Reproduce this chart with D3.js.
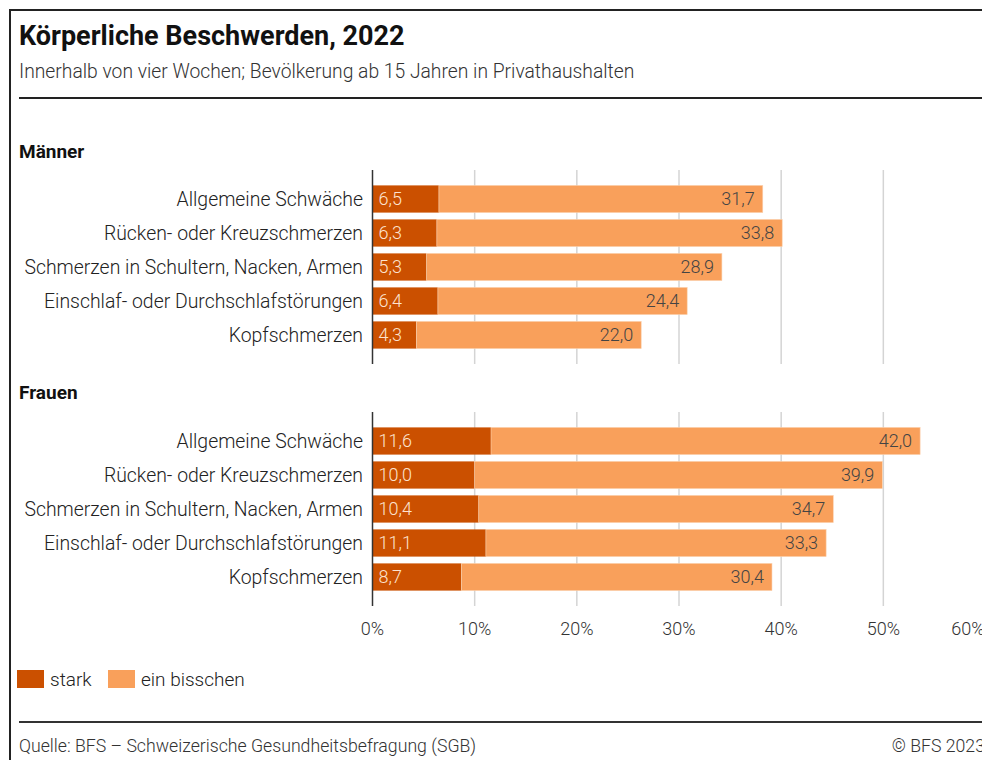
<!DOCTYPE html>
<html>
<head>
<meta charset="utf-8">
<script src="https://cdn.jsdelivr.net/npm/d3@7"></script>
<style>
  html, body { margin: 0; padding: 0; background: #fff; overflow: hidden; }
  svg { display: block; font-family: Roboto, "Noto Sans", sans-serif; }
</style>
</head>
<body>
<div id="chart-area"></div>
<script>
// data (percent)
var categories = ["Allgemeine Schwäche", "Rücken- oder Kreuzschmerzen", "Schmerzen in Schultern, Nacken, Armen",
  "Einschlaf- oder Durchschlafstörungen", "Kopfschmerzen"];
var maennerStark = [6.5, 6.3, 5.3, 6.4, 4.3];
var maennerEtwas = [31.7, 33.8, 28.9, 24.4, 22.0];
var frauenStark = [11.6, 10.0, 10.4, 11.1, 8.7];
var frauenEtwas = [42.0, 39.9, 34.7, 33.3, 30.4];
var ticks = [0, 10, 20, 30, 40, 50, 60];
var seriesNames = ["stark", "ein bisschen"];

var colStark = "#cb5000", colEtwas = "#f9a05b";
var fmt = (v) => v.toFixed(1).replace(".", ",");

var svg = d3.select("#chart-area").append("svg").attr("width", 1010).attr("height", 760);

// frame
svg.append("rect").attr("x", 10).attr("y", 10).attr("width", 1010).attr("height", 800)
  .attr("fill", "none").attr("stroke", "#222").attr("stroke-width", 2);

svg.append("text").attr("x", 19).attr("y", 45).attr("font-size", 27).attr("font-weight", 700)
  .attr("fill", "#111").text("Körperliche Beschwerden, 2022");
svg.append("text").attr("x", 19).attr("y", 78).attr("font-size", 19.3).attr("font-weight", 300)
  .attr("fill", "#333")
  .text("Innerhalb von vier Wochen; Bevölkerung ab 15 Jahren in Privathaushalten");
svg.append("line").attr("x1", 19).attr("x2", 1010).attr("y1", 98).attr("y2", 98)
  .attr("stroke", "#222").attr("stroke-width", 2);

var x = d3.scaleLinear().domain([0, 60]).range([372.5, 985.5]);

var panels = [
  {name: "Männer", stark: maennerStark, etwas: maennerEtwas, head: 158, top: 170, bottom: 364, r0: 182, r1: 352},
  {name: "Frauen", stark: frauenStark, etwas: frauenEtwas, head: 399, top: 412, bottom: 606, r0: 424, r1: 594}
];

panels.forEach((p) => {
  var y = d3.scaleBand().domain(categories).range([p.r0, p.r1]).paddingInner(0.2).paddingOuter(0.1);
  var g = svg.append("g");

  g.append("text").attr("x", 19).attr("y", p.head).attr("font-size", 19).attr("font-weight", 700)
    .attr("fill", "#111").text(p.name);

  g.selectAll("line.grid").data(ticks.slice(1)).enter().append("line")
    .attr("x1", (d) => x(d)).attr("x2", (d) => x(d)).attr("y1", p.top).attr("y2", p.bottom)
    .attr("stroke", "#d4d4d4").attr("stroke-width", 1.5);

  var rows = categories.map((c, i) => ({cat: c, s: p.stark[i], e: p.etwas[i]}));

  g.selectAll("rect.s").data(rows).enter().append("rect")
    .attr("x", x(0)).attr("y", (d) => y(d.cat))
    .attr("width", (d) => x(d.s) - x(0)).attr("height", y.bandwidth())
    .attr("fill", colStark);
  g.selectAll("rect.e").data(rows).enter().append("rect")
    .attr("x", (d) => x(d.s)).attr("y", (d) => y(d.cat))
    .attr("width", (d) => x(d.s + d.e) - x(d.s)).attr("height", y.bandwidth())
    .attr("fill", colEtwas).attr("stroke", "#fbd2b0").attr("stroke-width", 0.6);

  g.selectAll("text.s").data(rows).enter().append("text")
    .attr("x", x(0) + 6).attr("y", (d) => y(d.cat) + y.bandwidth() / 2).attr("dy", "0.35em")
    .attr("font-size", 18).attr("font-weight", 300).attr("fill", "#fde3cf").text((d) => fmt(d.s));
  g.selectAll("text.e").data(rows).enter().append("text")
    .attr("x", (d) => x(d.s + d.e) - 8).attr("y", (d) => y(d.cat) + y.bandwidth() / 2).attr("dy", "0.35em")
    .attr("text-anchor", "end").attr("font-size", 18).attr("font-weight", 300)
    .attr("fill", "#444").text((d) => fmt(d.e));

  g.selectAll("text.cat").data(categories).enter().append("text")
    .attr("x", 363).attr("y", (d) => y(d) + y.bandwidth() / 2).attr("dy", "0.35em")
    .attr("text-anchor", "end").attr("font-size", 19.4).attr("font-weight", 300)
    .attr("fill", "#222").text((d) => d);

  g.append("line").attr("x1", x(0)).attr("x2", x(0)).attr("y1", p.top).attr("y2", p.bottom)
    .attr("stroke", "#333").attr("stroke-width", 1.5);
});

// x axis labels (last one kept inside the frame)
svg.selectAll("text.tick").data(ticks).enter().append("text")
  .attr("x", (d, i) => i === ticks.length - 1 ? x(d) - 1 : x(d)).attr("y", 629).attr("dy", "0.35em")
  .attr("text-anchor", (d, i) => i === ticks.length - 1 ? "end" : "middle")
  .attr("font-size", 18).attr("font-weight", 300).attr("fill", "#333").text((d) => d + "%");

// legend
var legX = [17, 108];
var leg = svg.selectAll("g.leg").data(seriesNames).enter().append("g")
  .attr("transform", (d, i) => "translate(" + legX[i] + ",670)");
leg.append("rect").attr("width", 27).attr("height", 18)
  .attr("fill", (d, i) => i === 0 ? colStark : colEtwas);
leg.append("text").attr("x", 33).attr("y", 9).attr("dy", "0.35em")
  .attr("font-size", 19).attr("font-weight", 300).attr("fill", "#222").text((d) => d);

// footer
svg.append("line").attr("x1", 19).attr("x2", 1010).attr("y1", 722).attr("y2", 722)
  .attr("stroke", "#333").attr("stroke-width", 2);
svg.append("text").attr("x", 19).attr("y", 752).attr("font-size", 17.7).attr("font-weight", 300)
  .attr("fill", "#333").text("Quelle: BFS – Schweizerische Gesundheitsbefragung (SGB)");
svg.append("text").attr("x", 985).attr("y", 752).attr("text-anchor", "end").attr("font-size", 17.7)
  .attr("font-weight", 300).attr("fill", "#333").text("© BFS 2023");
</script>
</body>
</html>
